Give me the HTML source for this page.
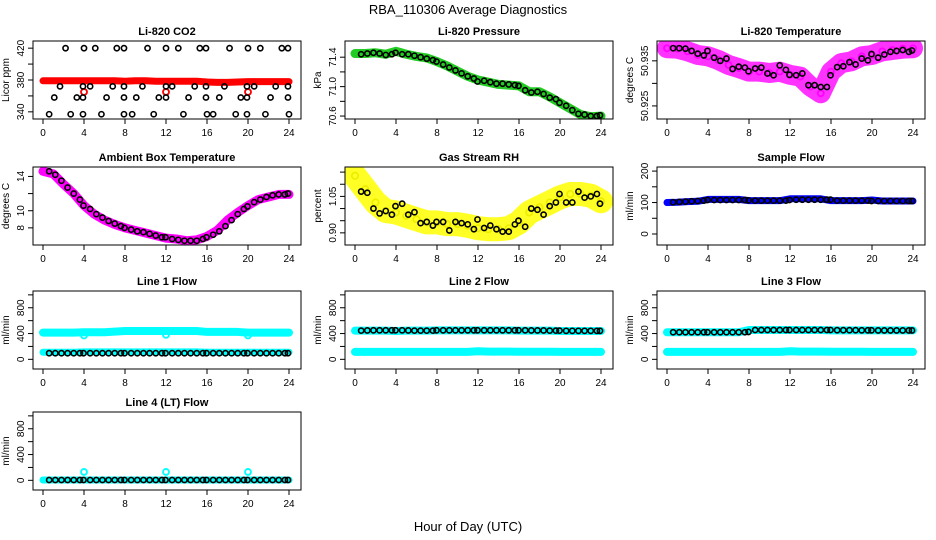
<!DOCTYPE html>
<html><head><meta charset="utf-8">
<style>
html,body{margin:0;padding:0;background:#fff;}
svg{display:block;font-family:"Liberation Sans",Arial,sans-serif;}
</style></head>
<body>
<svg id="chart" width="936" height="540" viewBox="0 0 936 540" xmlns="http://www.w3.org/2000/svg">
<rect x="0" y="0" width="936" height="540" fill="#fff"/>
<text x="468" y="14" font-size="13" text-anchor="middle">RBA_110306  Average Diagnostics</text>
<text x="468" y="531" font-size="13" text-anchor="middle">Hour of Day (UTC)</text>
</svg>
<script>
// ---- data ----
const hourTicks = [0,4,8,12,16,20,24];
const hourly = [0,1,2,3,4,5,6,7,8,9,10,11,12,13,14,15,16,17,18,19,20,21,22,23,24];
const blackHours = [0.6,1.2,1.8,2.4,3.0,3.6,3.95,4.6,5.2,5.8,6.4,7.0,7.6,7.95,8.6,9.2,9.8,10.4,11.0,11.6,11.95,12.6,13.2,13.8,14.4,15.0,15.6,15.95,16.6,17.2,17.8,18.4,19.0,19.6,19.95,20.6,21.2,21.8,22.4,23.0,23.6,23.9];

const co2BlackHours = [2.2,4.0,5.1,7.2,7.9,10.2,12.0,13.2,15.3,15.9,18.2,20.0,21.2,23.3,23.9, 1.66,3.9,4.6,6.8,7.9,9.7,12.0,12.6,14.8,15.9,17.7,19.9,20.6,22.7,23.9, 1.1,3.3,3.9,6.2,7.9,9.1,11.3,12.0,14.2,15.9,17.2,19.3,19.9,22.2,23.9, 0.6,2.7,3.9,5.7,7.9,8.7,10.8,13.7,16.0,16.6,18.8,19.9,21.7,24.0];
const co2Black = [420,420,420,420,420,420,420,420,420,420,420,420,420,420,420, 372,372,372,372,372,372,372,372,372,372,372,372,372,372,372, 358,358,358,358,358,358,358,358,358,358,358,358,358,358,358, 337,337,337,337,337,337,337,337,337,337,337,337,337,337];
const co2Red = [379,379,379,379,379,379,379,379,378.5,379,379,378.5,378.5,378.5,378.5,378.5,377.5,377,377,377.5,378,378,378,378,378];
const co2RedHours = [4,12,20];
const co2RedDots = [365,365,365];

const pressColor = [71.45,71.45,71.46,71.44,71.48,71.44,71.41,71.39,71.34,71.28,71.21,71.14,71.09,71.06,71.03,71.02,71.01,70.93,70.93,70.86,70.78,70.70,70.62,70.59,70.60];
const pressBlack = [71.44,71.45,71.46,71.45,71.43,71.44,71.46,71.44,71.44,71.42,71.40,71.38,71.36,71.34,71.30,71.26,71.22,71.18,71.14,71.11,71.07,71.08,71.06,71.04,71.04,71.03,71.02,71.01,70.95,70.92,70.93,70.90,70.85,70.83,70.78,70.74,70.68,70.63,70.62,70.60,70.60,70.61];

const tempColor = [50.9378,50.9377,50.9371,50.9363,50.9360,50.9352,50.9341,50.9334,50.9326,50.9326,50.9323,50.9326,50.9319,50.9315,50.9293,50.9278,50.9326,50.9345,50.9349,50.9360,50.9363,50.9371,50.9374,50.9377,50.9378];
const tempBlack = [50.9378,50.9378,50.9377,50.9372,50.9366,50.9362,50.9372,50.9357,50.9350,50.9355,50.9332,50.9337,50.9335,50.9327,50.9333,50.9335,50.9322,50.9318,50.9340,50.9330,50.9319,50.9318,50.9322,50.9296,50.9296,50.9292,50.9292,50.9318,50.9336,50.9338,50.9347,50.9342,50.9355,50.9351,50.9365,50.9357,50.9364,50.9370,50.9372,50.9374,50.9370,50.9373];

const ambColor = [14.6,14.3,13.1,12.0,10.6,9.6,8.9,8.4,8.0,7.7,7.4,7.1,6.8,6.7,6.5,6.6,7.0,7.7,8.9,9.8,10.6,11.3,11.6,11.9,11.9];
const ambBlack = [14.6,14.2,13.5,12.7,12.0,11.3,10.6,10.2,9.6,9.2,8.8,8.5,8.2,8.0,7.8,7.6,7.5,7.3,7.1,6.9,6.9,6.7,6.6,6.5,6.5,6.5,6.7,6.9,7.2,7.6,8.2,8.9,9.6,10.2,10.5,11.0,11.3,11.6,11.8,11.9,11.9,12.0];

const rhColor = [1.135,1.08,1.025,0.99,0.984,0.97,0.956,0.943,0.943,0.936,0.936,0.929,0.919,0.915,0.915,0.919,0.943,0.984,1.005,1.025,1.046,1.06,1.06,1.053,1.03];
const rhBlack = [1.07,1.065,1.0,0.98,0.99,0.975,1.01,1.02,0.975,0.985,0.94,0.945,0.93,0.945,0.945,0.91,0.945,0.94,0.935,0.915,0.955,0.92,0.93,0.915,0.905,0.905,0.935,0.95,0.925,1.0,0.995,0.975,1.01,1.025,1.06,1.025,1.025,1.07,1.045,1.05,1.06,1.02];

const sampleColor = [100,101,103,104,110,110,110,110,106,106,106,106,112,112,112,112,106,106,106,106,108,105,105,105,105];
const sampleBlack = [101,102,103,104,105,106,108,108,108,108,108,108,108,107,106,106,106,106,106,106,108,109,109,109,109,109,109,109,106,106,106,106,106,106,105,105,105,105,105,105,105,105];

const line1CyanHi = [415,415,415,415,420,420,420,430,440,440,440,440,440,440,440,440,425,425,425,425,415,415,415,415,415];
const line1CyanLo = [110,110,110,110,115,115,115,115,115,115,115,115,115,115,115,115,110,110,110,110,110,110,110,110,110];
const line1Dips = [370,380,370];
const line1Black = [95,95,95,95,95,95,95,95,95,95,95,95,95,95,95,95,95,95,95,95,95,95,95,95,95,95,95,95,95,95,95,95,95,95,95,95,95,95,95,95,95,95];

const line2CyanHi = [445,445,445,445,440,445,445,445,450,450,450,450,450,450,450,450,445,445,445,445,440,440,440,440,440];
const line2CyanLo = [115,115,115,115,115,115,115,115,115,115,115,115,125,120,120,120,118,118,118,118,115,115,115,115,115];
const line2Black = [445,448,450,450,450,450,450,450,448,445,445,445,445,450,450,450,450,450,450,450,450,450,450,450,450,450,450,450,450,448,448,448,445,445,445,442,442,442,442,442,442,442];

const line3CyanHi = [420,420,420,420,420,420,420,420,455,455,455,455,455,455,455,455,450,450,450,450,450,450,450,450,450];
const line3CyanLo = [115,115,115,115,115,115,115,115,115,115,115,115,125,120,120,120,118,118,118,118,115,115,115,115,115];
const line3Black = [420,420,420,420,420,420,420,420,420,420,420,420,420,425,455,455,455,455,455,455,455,455,455,455,455,455,455,455,452,452,452,452,450,450,450,448,448,448,448,448,448,448];

const line4Cyan = [5,5,5,5,5,5,5,5,5,5,5,5,5,5,5,5,5,5,5,5,5,5,5,5,5];
const line4Spikes = [130,130,130];
const line4Black = [5,5,5,5,5,5,5,5,5,5,5,5,5,5,5,5,5,5,5,5,5,5,5,5,5,5,5,5,5,5,5,5,5,5,5,5,5,5,5,5,5,5];
const flowTicks = [0,200,400,600,800,1000];
const flowLabels = ['0','400','800'];

// ---- drawing ----
const NS = 'http://www.w3.org/2000/svg';
const svg = document.getElementById('chart');
const rowTop = [41,167,291,412];
const boxH = 78;
function mk(tag, attrs, parent) {
  const e = document.createElementNS(NS, tag);
  for (const k in attrs) e.setAttribute(k, attrs[k]);
  (parent || svg).appendChild(e);
  return e;
}
function panel(col, row, title, ylab, ylim, ticks, labels, slug) {
  const g = mk('g', {});
  
  
  const x0 = 43 + 312 * col, left = x0 - 10, right = x0 + 258;
  const top = rowTop[row], bot = top + boxH;
  const xs = h => x0 + h * 246 / 24;
  const ys = v => bot - (v - ylim[0]) / (ylim[1] - ylim[0]) * boxH;
  const clipId = 'clip-' + slug;
  const cp = mk('clipPath', {id: clipId}, g);
  mk('rect', {x: left, y: top, width: right - left, height: boxH}, cp);
  const plot = mk('g', {'clip-path': 'url(#' + clipId + ')'}, g);
  
  
  const box = mk('rect', {x: left, y: top, width: right - left, height: boxH, fill: 'none', stroke: '#000', 'stroke-width': 1}, g);
  
  
  const t = mk('text', {x: (left + right) / 2, y: top - 6, 'font-size': 11, 'font-weight': 'bold', 'text-anchor': 'middle'}, g);
  t.textContent = title;
  
  
  const yl = mk('text', {x: 0, y: 0, 'font-size': 10, 'text-anchor': 'middle', transform: 'translate(' + (left - 24) + ',' + ((top + bot) / 2) + ') rotate(-90)'}, g);
  yl.textContent = ylab;
  
  
  hourTicks.forEach(h => {
    mk('line', {x1: xs(h), x2: xs(h), y1: bot, y2: bot + 5, stroke: '#000'}, g);
    const tl = mk('text', {x: xs(h), y: bot + 17, 'font-size': 10, 'text-anchor': 'middle'}, g);
    tl.textContent = h;
    
    
  });
  ticks.forEach(v => {
    mk('line', {x1: left - 5, x2: left, y1: ys(v), y2: ys(v), stroke: '#000'}, g);
  });
  labels.forEach(s => {
    const tl = mk('text', {x: 0, y: 0, 'font-size': 10, 'text-anchor': 'middle', transform: 'translate(' + (left - 9) + ',' + ys(parseFloat(s)) + ') rotate(-90)'}, g);
    tl.textContent = s;
    
    
  });
  return {plot, xs, ys};
}
function band(p, xsArr, vals, color, width, name, opacity) {
  const pts = xsArr.map((h, i) => p.xs(h) + ',' + p.ys(vals[i])).join(' ');
  const e = mk('polyline', {points: pts, fill: 'none', stroke: color, 'stroke-width': width, 'stroke-linejoin': 'round', 'stroke-linecap': 'round', opacity: opacity || 1}, p.plot);
  
  
}
function dots(p, xsArr, vals, color, r, sw, name) {
  xsArr.forEach((h, i) => {
    const c = mk('circle', {cx: p.xs(h), cy: p.ys(vals[i]), r: r, fill: 'none', stroke: color, 'stroke-width': sw}, p.plot);
    
    
  });
}

// Li-820 CO2
let p = panel(0, 0, 'Li-820 CO2', 'Licor ppm', [331, 429], [340,360,380,400,420], ['340','380','420'], 'co2');
band(p, hourly, co2Red, '#ff0000', 7, 'co2-red-band');
dots(p, co2RedHours, co2RedDots, '#ff0000', 3, 1.8, 'co2-red-point');
dots(p, co2BlackHours, co2Black, '#000', 2.6, 1.6, 'co2-black-point');

// Pressure
p = panel(1, 0, 'Li-820 Pressure', 'kPa', [70.56, 71.62], [70.6,70.8,71.0,71.2,71.4], ['70.6','71.0','71.4'], 'pressure');
band(p, hourly, pressColor, '#22cc22', 9, 'pressure-green-band');
dots(p, hourly, pressColor, '#22cc22', 3, 1.8, 'pressure-green-point');
dots(p, blackHours, pressBlack, '#000', 2.6, 1.6, 'pressure-black-point');

// Temperature
p = panel(2, 0, 'Li-820 Temperature', 'degrees C', [50.9221, 50.9394], [50.925,50.930,50.935], ['50.925','50.935'], 'temperature');
band(p, hourly, tempColor, '#ff00ff', 20, 'temperature-magenta-band', 0.8);
dots(p, hourly, tempColor, '#ff00ff', 3, 1.8, 'temperature-magenta-point');
dots(p, blackHours, tempBlack, '#000', 2.6, 1.6, 'temperature-black-point');

// Ambient
p = panel(0, 1, 'Ambient Box Temperature', 'degrees C', [6.0, 15.1], [8,10,12,14], ['8','10','14'], 'ambient');
band(p, hourly, ambColor, '#ff00ff', 9, 'ambient-magenta-band');
dots(p, blackHours, ambBlack, '#000', 2.6, 1.6, 'ambient-black-point');

// RH
p = panel(1, 1, 'Gas Stream RH', 'percent', [0.85, 1.171], [0.90,0.95,1.00,1.05,1.10,1.15], ['0.90','1.05'], 'rh');
band(p, hourly, rhColor, '#ffff00', 24, 'rh-yellow-band', 0.85);
dots(p, hourly, rhColor, '#eeee00', 3.2, 1.8, 'rh-yellow-point');
dots(p, blackHours, rhBlack, '#000', 2.6, 1.6, 'rh-black-point');

// Sample flow
p = panel(2, 1, 'Sample Flow', 'ml/min', [-35, 213], [0,50,100,150,200], ['0','100','200'], 'sample-flow');
band(p, hourly, sampleColor, '#0000ff', 7, 'sample-blue-band');
dots(p, blackHours, sampleBlack, '#000', 2.6, 1.6, 'sample-black-point');

// Line 1
p = panel(0, 2, 'Line 1 Flow', 'ml/min', [-150, 1060], flowTicks, flowLabels, 'line1-flow');
band(p, hourly, line1CyanHi, '#00ffff', 8, 'line1-cyan-upper-band');
band(p, hourly, line1CyanLo, '#00ffff', 7, 'line1-cyan-lower-band');
dots(p, co2RedHours, line1Dips, '#00ffff', 3, 1.8, 'line1-cyan-dip');
dots(p, blackHours, line1Black, '#000', 2.6, 1.6, 'line1-black-point');

// Line 2
p = panel(1, 2, 'Line 2 Flow', 'ml/min', [-150, 1060], flowTicks, flowLabels, 'line2-flow');
band(p, hourly, line2CyanHi, '#00ffff', 8, 'line2-cyan-upper-band');
band(p, hourly, line2CyanLo, '#00ffff', 8, 'line2-cyan-lower-band');
dots(p, blackHours, line2Black, '#000', 2.6, 1.6, 'line2-black-point');

// Line 3
p = panel(2, 2, 'Line 3 Flow', 'ml/min', [-150, 1060], flowTicks, flowLabels, 'line3-flow');
band(p, hourly, line3CyanHi, '#00ffff', 8, 'line3-cyan-upper-band');
band(p, hourly, line3CyanLo, '#00ffff', 8, 'line3-cyan-lower-band');
dots(p, blackHours, line3Black, '#000', 2.6, 1.6, 'line3-black-point');

// Line 4
p = panel(0, 3, 'Line 4 (LT) Flow', 'ml/min', [-150, 1060], flowTicks, flowLabels, 'line4-flow');
band(p, hourly, line4Cyan, '#00ffff', 7, 'line4-cyan-band');
dots(p, co2RedHours, line4Spikes, '#00ffff', 3, 1.8, 'line4-cyan-spike');
dots(p, blackHours, line4Black, '#000', 2.6, 1.6, 'line4-black-point');
</script>
</body></html>
